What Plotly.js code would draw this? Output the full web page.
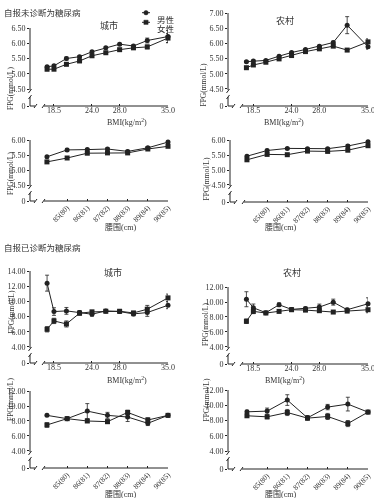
<!DOCTYPE html>
<html><head><meta charset="utf-8">
<script src="https://cdn.plot.ly/plotly-3.0.1.min.js"></script>
<style>html,body{margin:0;padding:0;background:#fff}#chart{width:374px;height:498px;filter:grayscale(1)}</style>
</head><body><div id="chart"></div>
<script>
// ---------- data ----------
const bmiGroups = [17.5, 18.5, 20.3, 22.2, 24, 26, 28, 30, 32, 35];
const bmiTickVals = [18.5, 24.0, 28.0, 35.0];
const bmiTickText = ["18.5", "24.0", "28.0", "35.0"];
const waistGroups = [0, 1, 2, 3, 4, 5, 6];
const waistTickVals = [1, 2, 3, 4, 5, 6];
const waistTickText = ["85(80)", "86(81)", "87(82)", "88(83)", "89(84)", "90(85)"];

const sexNames = ["男性", "女性"];
const areaNames = ["城市", "农村"];
const sectionNames = ["自报未诊断为糖尿病", "自报已诊断为糖尿病"];

const undxYTicks = [4.5, 5.0, 5.5, 6.0, 6.5];
const undxYTicksRural = [4.5, 5.0, 5.5, 6.0, 6.5, 7.0];
const undxYTicksWaist = [4.5, 5.0, 5.5, 6.0];
const dxYTicks14 = [4, 6, 8, 10, 12, 14];
const dxYTicks12 = [4, 6, 8, 10, 12];

// undiagnosed - urban - BMI
const uUrbBmiM = [5.23, 5.26, 5.50, 5.56, 5.72, 5.85, 5.97, 5.91, 6.09, 6.22];
const uUrbBmiMErr = [0.04, 0.04, 0.05, 0.04, 0.03, 0.03, 0.03, 0.04, 0.08, 0.20];
const uUrbBmiF = [5.15, 5.15, 5.31, 5.42, 5.59, 5.69, 5.79, 5.85, 5.88, 6.17];
const uUrbBmiFErr = [0.05, 0.03, 0.03, 0.03, 0.03, 0.03, 0.03, 0.04, 0.06, 0.15];
// undiagnosed - rural - BMI
const uRurBmiM = [5.40, 5.42, 5.44, 5.58, 5.70, 5.80, 5.91, 6.03, 6.60, 5.89];
const uRurBmiMErr = [0.03, 0.03, 0.03, 0.03, 0.03, 0.03, 0.03, 0.04, 0.28, 0.08];
const uRurBmiF = [5.20, 5.29, 5.38, 5.49, 5.60, 5.73, 5.82, 5.91, 5.78, 6.05];
const uRurBmiFErr = [0.03, 0.03, 0.03, 0.03, 0.03, 0.03, 0.03, 0.03, 0.04, 0.10];
// undiagnosed - urban - waist
const uUrbWM = [5.44, 5.67, 5.68, 5.70, 5.62, 5.74, 5.93];
const uUrbWMErr = [0.03, 0.05, 0.04, 0.04, 0.04, 0.04, 0.03];
const uUrbWF = [5.27, 5.40, 5.56, 5.57, 5.57, 5.70, 5.79];
const uUrbWFErr = [0.03, 0.03, 0.03, 0.03, 0.03, 0.03, 0.03];
// undiagnosed - rural - waist
const uRurWM = [5.46, 5.65, 5.72, 5.71, 5.71, 5.80, 5.94];
const uRurWMErr = [0.03, 0.04, 0.03, 0.03, 0.03, 0.05, 0.03];
const uRurWF = [5.34, 5.52, 5.51, 5.63, 5.62, 5.66, 5.81];
const uRurWFErr = [0.03, 0.03, 0.03, 0.03, 0.03, 0.03, 0.03];
// diagnosed - urban - BMI
const dUrbBmiM = [12.40, 8.66, 8.75, 8.53, 8.31, 8.75, 8.66, 8.35, 8.53, 9.49];
const dUrbBmiMErr = [1.05, 0.50, 0.45, 0.25, 0.25, 0.20, 0.20, 0.25, 0.50, 0.45];
const dUrbBmiF = [6.33, 7.43, 7.03, 8.44, 8.62, 8.70, 8.70, 8.48, 8.97, 10.46];
const dUrbBmiFErr = [0.35, 0.35, 0.40, 0.25, 0.20, 0.20, 0.20, 0.20, 0.50, 0.50];
// diagnosed - rural - BMI
const dRurBmiM = [10.37, 9.23, 8.57, 9.63, 9.01, 9.14, 9.32, 9.98, 8.97, 9.76];
const dRurBmiMErr = [1.00, 0.50, 0.20, 0.25, 0.20, 0.20, 0.40, 0.40, 0.20, 0.80];
const dRurBmiF = [7.43, 8.75, 8.53, 8.75, 8.97, 8.92, 8.84, 8.66, 8.79, 8.97];
const dRurBmiFErr = [0.30, 0.30, 0.20, 0.20, 0.20, 0.20, 0.20, 0.20, 0.20, 0.40];
// diagnosed - urban - waist
const dUrbWM = [8.75, 8.31, 9.32, 8.75, 8.53, 7.69, 8.75];
const dUrbWMErr = [0.15, 0.20, 1.00, 0.40, 0.60, 0.30, 0.15];
const dUrbWF = [7.47, 8.31, 8.00, 7.91, 9.14, 8.13, 8.75];
const dUrbWFErr = [0.30, 0.20, 0.20, 0.25, 0.30, 0.30, 0.15];
// diagnosed - rural - waist
const dRurWM = [9.14, 9.23, 10.68, 8.35, 9.76, 10.15, 9.10];
const dRurWMErr = [0.20, 0.40, 0.70, 0.30, 0.35, 0.90, 0.20];
const dRurWF = [8.62, 8.48, 9.05, 8.31, 8.53, 7.60, 9.10];
const dRurWFErr = [0.20, 0.25, 0.40, 0.20, 0.40, 0.40, 0.15];

// ---------- layout helpers ----------
const W = 374, H = 498;
const FONT = "Liberation Serif, 'Noto Sans CJK SC', serif";
const INK = "#222";
const TXT = "#333";
const PX = x => x / W;
const PY = y => 1 - y / H;

// box: [left(axis) px, right px, top px, bottom px]; xtitle: [centre x, top y]
const panels = [
  {box: [30, 168, 28, 106], yr: [3.944, 6.5], yt: undxYTicks, xr: [15.03, 35], kind: "bmi", m: uUrbBmiM, me: uUrbBmiMErr, f: uUrbBmiF, fe: uUrbBmiFErr, ytitle: [4, 65], xtitle: [105, 115]},
  {box: [228, 368, 13, 106], yr: [3.94, 7.0], yt: undxYTicksRural, xr: [14.85, 35], kind: "bmi", m: uRurBmiM, me: uRurBmiMErr, f: uRurBmiF, fe: uRurBmiFErr, ytitle: [203, 61], xtitle: [306, 115]},
  {box: [30, 168, 140, 201], yr: [3.967, 6.0], yt: undxYTicksWaist, xr: [-0.84, 6], kind: "waist", m: uUrbWM, me: uUrbWMErr, f: uUrbWF, fe: uUrbWFErr, ytitle: [4, 150], xtitle: [103, 221]},
  {box: [230, 368, 140, 202], yr: [3.933, 6.0], yt: undxYTicksWaist, xr: [-0.84, 6], kind: "waist", m: uRurWM, me: uRurWMErr, f: uRurWF, fe: uRurWFErr, ytitle: [206, 156], xtitle: [298, 221]},
  {box: [30, 168, 271, 363], yr: [1.89, 14], yt: dxYTicks14, xr: [15.03, 35], kind: "bmi", m: dUrbBmiM, me: dUrbBmiMErr, f: dUrbBmiF, fe: dUrbBmiFErr, ytitle: [4, 312], xtitle: [105, 373]},
  {box: [228, 368, 287, 364], yr: [1.73, 12], yt: dxYTicks12, xr: [14.85, 35], kind: "bmi", m: dRurBmiM, me: dRurBmiMErr, f: dRurBmiF, fe: dRurBmiFErr, ytitle: [205, 325], xtitle: [307, 373]},
  {box: [30, 168, 391, 468], yr: [1.73, 12], yt: dxYTicks12, xr: [-0.84, 6], kind: "waist", m: dUrbWM, me: dUrbWMErr, f: dUrbWF, fe: dUrbWFErr, ytitle: [4, 423], xtitle: [103, 487.5]},
  {box: [228, 368, 390, 469], yr: [1.64, 12], yt: dxYTicks12, xr: [-0.94, 6], kind: "waist", m: dRurWM, me: dRurWMErr, f: dRurWF, fe: dRurWFErr, ytitle: [206, 424], xtitle: [298, 487.5]}
];

const data = [];
const layout = {
  width: W, height: H,
  margin: {l: 0, r: 0, t: 0, b: 0},
  paper_bgcolor: "#fff", plot_bgcolor: "rgba(0,0,0,0)",
  font: {family: FONT, color: TXT, size: 8},
  showlegend: false,
  shapes: [],
  annotations: []
};

function line(x0, y0, x1, y1) {
  layout.shapes.push({type: "line", xref: "paper", yref: "paper", x0: PX(x0), y0: PY(y0), x1: PX(x1), y1: PY(y1), line: {color: INK, width: 1}, layer: "above"});
}
function note(text, x, y, opts) {
  layout.annotations.push(Object.assign({text: text, x: PX(x), y: PY(y), xref: "paper", yref: "paper", showarrow: false, font: {size: 8, family: FONT, color: TXT}}, opts || {}));
}

panels.forEach((p, i) => {
  const n = i + 1;
  const xa = "xaxis" + (n === 1 ? "" : n), ya = "yaxis" + (n === 1 ? "" : n);
  const xr = "x" + (n === 1 ? "" : n), yr = "y" + (n === 1 ? "" : n);
  const [L, R, T, B] = p.box;
  const isBmi = p.kind === "bmi";
  layout[xa] = {
    domain: [PX(L), PX(R)], range: p.xr, anchor: yr,
    showline: false, showgrid: false, zeroline: false,
    ticks: "inside", ticklen: 2, tickcolor: INK, tickwidth: 1,
    tickmode: "array",
    tickvals: isBmi ? bmiTickVals : waistTickVals,
    ticktext: isBmi ? bmiTickText : waistTickText,
    tickangle: isBmi ? 0 : -45,
    ticklabelstandoff: isBmi ? -2 : 0,
    ticklabeloverflow: "allow",
    tickfont: {size: isBmi ? 8 : 7.5, family: FONT, color: TXT},
    fixedrange: true
  };
  layout[ya] = {
    domain: [PY(B), PY(T)], range: p.yr, anchor: xr,
    showline: false, showgrid: false, zeroline: false,
    ticks: "outside", ticklen: 2, tickcolor: INK, tickwidth: 1,
    tickmode: "array",
    tickvals: [p.yr[0]].concat(p.yt),
    ticktext: ["0"].concat(p.yt.map(v => v.toFixed(2))),
    ticklabeloverflow: "allow",
    tickfont: {size: 8, family: FONT, color: TXT},
    fixedrange: true
  };
  const xs = isBmi ? bmiGroups : waistGroups;
  const mk = (vals, errs, sym, name) => ({
    type: "scatter", mode: "lines+markers", x: xs, y: vals, xaxis: xr, yaxis: yr,
    name: name, showlegend: false,
    line: {color: INK, width: 1},
    marker: {symbol: sym, size: 5, color: INK},
    error_y: {type: "data", array: errs, visible: true, color: INK, thickness: 0.8, width: 2},
    cliponaxis: false, hoverinfo: "skip"
  });
  data.push(mk(p.m, p.me, "circle", sexNames[0]));
  data.push(mk(p.f, p.fe, "square", sexNames[1]));

  // axis lines with breaks
  const lowTick = p.yt[0];
  const brk = T + (p.yr[1] - lowTick) / (p.yr[1] - p.yr[0]) * (B - T);
  line(L, T, L, brk + 1);
  line(L - 1.5, brk + 4, L + 1.5, brk);
  line(L - 1.5, brk + 10, L + 1.5, brk + 6);
  line(L, brk + 8, L, B);
  line(L, B, L + 5, B);
  line(L + 4, B + 2, L + 7, B - 2);
  line(L + 12, B + 2, L + 15, B - 2);
  line(L + 14, B, R, B);

  note("FPG(mmol/L)", p.ytitle[0], p.ytitle[1], {textangle: -90, font: {size: 7.5, family: FONT, color: TXT}});
  note(isBmi ? "BMI(kg/m<sup>2</sup>)" : "腰围(cm)", p.xtitle[0], p.xtitle[1], {yanchor: "top"});
});

// legend (key glyphs drawn beside the labels)
line(142, 12.7, 150, 12.7);
line(142, 22.3, 150, 22.3);
layout.shapes.push({type: "circle", xref: "paper", yref: "paper", x0: PX(143.8), x1: PX(148.2), y0: PY(14.9), y1: PY(10.5), fillcolor: INK, line: {color: INK, width: 0.5}, layer: "above"});
layout.shapes.push({type: "rect", xref: "paper", yref: "paper", x0: PX(143.9), x1: PX(148.1), y0: PY(24.4), y1: PY(20.2), fillcolor: INK, line: {color: INK, width: 0.5}, layer: "above"});
note(sexNames[0], 155, 12.7, {xanchor: "left", font: {size: 8.5, family: FONT, color: TXT}});
note(sexNames[1], 155, 22.3, {xanchor: "left", font: {size: 8.5, family: FONT, color: TXT}});

note(sectionNames[0], 2, 6, {xanchor: "left", font: {size: 8.5, family: FONT, color: TXT}});
note(sectionNames[1], 2, 248, {xanchor: "left", font: {size: 8.5, family: FONT, color: TXT}});
note(areaNames[0], 98, 18, {font: {size: 9, family: FONT, color: TXT}});
note(areaNames[1], 296, 13, {font: {size: 9, family: FONT, color: TXT}});
note(areaNames[0], 102, 272, {font: {size: 9, family: FONT, color: TXT}});
note(areaNames[1], 303, 272, {font: {size: 9, family: FONT, color: TXT}});

Plotly.newPlot("chart", data, layout, {staticPlot: true, displayModeBar: false});
</script>
</body></html>
